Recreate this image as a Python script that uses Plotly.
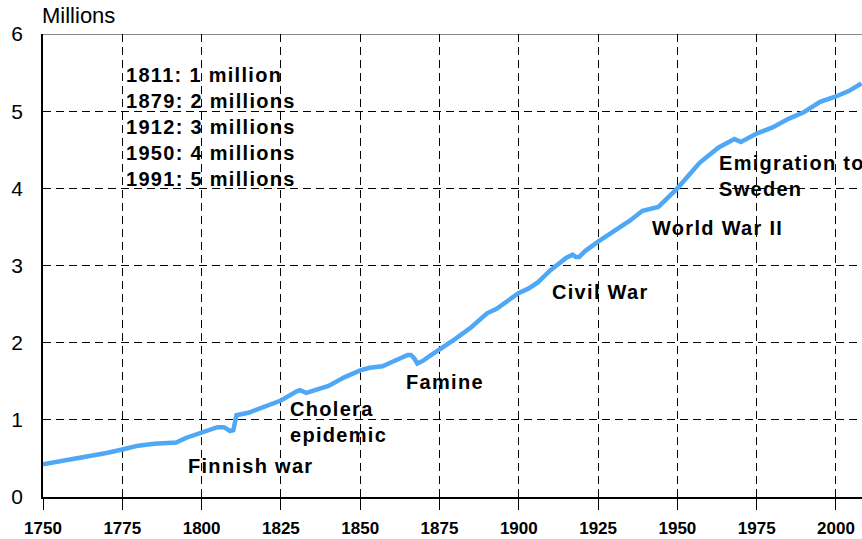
import plotly.graph_objects as go

# ---- data (population of Finland, millions) ----
years = [1750, 1755, 1760, 1765, 1770, 1775, 1780, 1785, 1790, 1792, 1795, 1800,
         1805, 1807, 1808, 1809, 1810, 1811, 1815, 1820, 1825, 1830, 1831, 1833,
         1836, 1840, 1845, 1850, 1853, 1857, 1860, 1863, 1865, 1866, 1867, 1868,
         1870, 1872, 1875, 1880, 1885, 1890, 1893, 1895, 1900, 1903, 1906, 1910,
         1915, 1917, 1918, 1919, 1921, 1925, 1930, 1935, 1939, 1941, 1944, 1950,
         1957, 1963, 1965, 1968, 1970, 1973, 1975, 1980, 1985, 1990, 1995, 2000,
         2004, 2008]
population = [0.424, 0.46, 0.49, 0.535, 0.57, 0.615, 0.665, 0.69, 0.705, 0.705, 0.765, 0.83,
              0.905, 0.905, 0.88, 0.855, 0.865, 1.06, 1.095, 1.17, 1.25, 1.37, 1.385, 1.35,
              1.39, 1.44, 1.55, 1.64, 1.675, 1.695, 1.75, 1.80, 1.84, 1.84, 1.80, 1.73,
              1.77, 1.83, 1.91, 2.05, 2.20, 2.38, 2.44, 2.50, 2.645, 2.70, 2.78, 2.94,
              3.10, 3.14, 3.11, 3.11, 3.19, 3.31, 3.45, 3.58, 3.71, 3.73, 3.76, 4.00,
              4.33, 4.53, 4.575, 4.64, 4.60, 4.67, 4.71, 4.79, 4.90, 4.99, 5.12, 5.19,
              5.26, 5.36]

x_ticks = [1750, 1775, 1800, 1825, 1850, 1875, 1900, 1925, 1950, 1975, 2000]
y_ticks = [0, 1, 2, 3, 4, 5, 6]

milestones = ["1811: 1 million", "1879: 2 millions", "1912: 3 millions",
              "1950: 4 millions", "1991: 5 millions"]

# event labels: (lines, x-year, y-value)
events = [
    (["Finnish war"], 1795.0, 0.40),
    (["Cholera", "epidemic"], 1827.3, 0.97),
    (["Famine"], 1863.8, 1.49),
    (["Civil War"], 1909.8, 2.66),
    (["World War II"], 1941.4, 3.48),
    (["Emigration to", "Sweden"], 1962.6, 4.16),
]

FONT = "Liberation Sans, Arial, Helvetica, sans-serif"
LS = "letter-spacing:1.3px"


def spaced(lines):
    return "<br>".join(f"<span style='{LS}'>{t}</span>" for t in lines)


fig = go.Figure()
fig.add_trace(go.Scatter(
    x=years, y=population, mode="lines",
    line=dict(color="#4EA8F5", width=4.5),
    hoverinfo="skip",
))

annotations = []
annotations.append(dict(
    text=spaced(milestones), x=1775.4, y=4.79, xref="x", yref="y",
    xanchor="left", yanchor="middle", align="left", showarrow=False,
    font=dict(family=FONT, size=20, color="black", weight="bold"),
))
for lines, xv, yv in events:
    annotations.append(dict(
        text=spaced(lines), x=xv, y=yv, xref="x", yref="y",
        xanchor="left", yanchor="middle", align="left", showarrow=False,
        font=dict(family=FONT, size=20, color="black", weight="bold"),
    ))
annotations.append(dict(
    text="Millions", x=0, y=1.039, xref="paper", yref="paper", xshift=-3,
    xanchor="left", yanchor="middle", showarrow=False,
    font=dict(family=FONT, size=22, color="black"),
))

fig.update_layout(
    width=862, height=539,
    margin=dict(l=43, r=0, t=34, b=42, pad=0),
    paper_bgcolor="white", plot_bgcolor="white",
    showlegend=False,
    annotations=annotations,
    font=dict(family=FONT, color="black"),
    shapes=[dict(type="line", xref="paper", yref="y", x0=0, x1=1, y0=6, y1=6,
                 line=dict(color="#888888", width=2), layer="below")],
)
fig.update_xaxes(
    range=[1750, 2008.2], tickvals=x_ticks, ticktext=[str(v) for v in x_ticks],
    showgrid=True, gridcolor="black", gridwidth=1, griddash="8px,5px",
    showline=True, linecolor="black", linewidth=1.5,
    ticks="outside", ticklen=11, tickcolor="black", tickwidth=1,
    ticklabelstandoff=4,
    tickfont=dict(family=FONT, size=17, color="black", weight="bold"),
    zeroline=False, automargin=False,
)
fig.update_yaxes(
    range=[0, 6], tickvals=y_ticks, ticktext=[str(v) for v in y_ticks],
    showgrid=True, gridcolor="black", gridwidth=1, griddash="8px,5px",
    showline=True, linecolor="black", linewidth=1.5,
    ticks="", ticklabelstandoff=14,
    tickfont=dict(family=FONT, size=21, color="black"),
    zeroline=False, automargin=False,
)

fig.write_html(
    "out.html",
    config={"displayModeBar": False},
    post_script="document.body.style.margin='0px';document.body.style.overflow='hidden';",
)
